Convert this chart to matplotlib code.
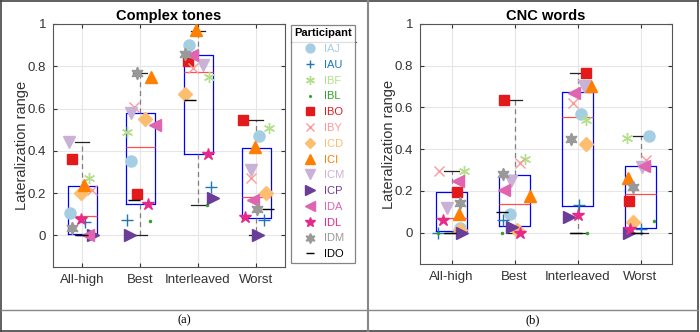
import numpy as np
import matplotlib
matplotlib.use("Agg")
import matplotlib.pyplot as plt
from matplotlib.lines import Line2D

# -------------------------------
# data
# -------------------------------
categories = ["All-high", "Best", "Interleaved", "Worst"]
participants = ["IAJ", "IAU", "IBF", "IBL", "IBO", "IBY", "ICD",
                "ICI", "ICM", "ICP", "IDA", "IDL", "IDM", "IDO"]

# lateralization range per category, one value per participant (order above)
ct_values = [
    [0.106, 0.063, 0.273, 0.0, 0.362, 0.213, 0.20, 0.24, 0.44, 0.0, 0.0, 0.078, 0.035, 0.0],
    [0.351, 0.074, 0.487, 0.068, 0.194, 0.605, 0.55, 0.75, 0.58, 0.0, 0.523, 0.15, 0.77, 0.166],
    [0.90, 0.229, 0.75, 0.144, 0.826, 0.793, 0.667, 0.97, 0.805, 0.177, 0.853, 0.384, 0.856, 0.64],
    [0.471, 0.074, 0.509, 0.0, 0.548, 0.273, 0.20, 0.419, 0.311, 0.0, 0.166, 0.085, 0.125, 0.126],
]
cnc_values = [
    [0.024, 0.0, 0.297, 0.0, 0.193, 0.296, 0.013, 0.088, 0.117, 0.0, 0.248, 0.061, 0.14, 0.0],
    [0.088, 0.061, 0.351, 0.0, 0.636, 0.335, 0.013, 0.177, 0.248, 0.029, 0.204, 0.0, 0.28, 0.10],
    [0.569, 0.133, 0.54, 0.0, 0.767, 0.623, 0.423, 0.704, 0.703, 0.077, 0.668, 0.085, 0.447, 0.0],
    [0.463, 0.02, 0.455, 0.057, 0.152, 0.348, 0.053, 0.264, 0.316, 0.0, 0.32, 0.02, 0.22, 0.0],
]

# box statistics (quartiles, median, whisker ends)
ct_q1 = [0.005, 0.15, 0.384, 0.084]
ct_med = [0.09, 0.42, 0.773, 0.182]
ct_q3 = [0.235, 0.581, 0.852, 0.411]
ct_lo = [0.0, 0.0, 0.144, 0.0]
ct_hi = [0.44, 0.77, 0.967, 0.548]

cnc_q1 = [0.008, 0.032, 0.129, 0.024]
cnc_med = [0.069, 0.137, 0.553, 0.185]
cnc_q3 = [0.193, 0.276, 0.676, 0.32]
cnc_lo = [0.0, 0.0, 0.0, 0.0]
cnc_hi = [0.297, 0.636, 0.767, 0.463]

# horizontal jitter of the points
ct_jitter = [
    [-0.20, 0.06, 0.12, 0.10, -0.17, 0.18, -0.02, 0.03, -0.23, 0.19, 0.10, -0.02, -0.17, 0.0],
    [-0.16, -0.23, -0.23, 0.18, -0.05, -0.10, 0.08, 0.19, -0.16, -0.18, 0.25, 0.14, -0.06, -0.10],
    [-0.16, 0.23, 0.19, 0.16, -0.17, -0.09, -0.23, -0.04, 0.09, 0.25, -0.10, 0.18, -0.23, -0.14],
    [0.06, 0.13, 0.23, 0.05, -0.23, -0.08, 0.18, -0.02, -0.08, 0.03, -0.06, -0.19, 0.01, 0.21],
]
cnc_jitter = [
    [0.13, -0.21, 0.20, -0.21, 0.09, -0.20, 0.13, 0.12, -0.07, 0.17, 0.11, -0.14, 0.13, -0.03],
    [-0.07, -0.18, 0.16, -0.20, -0.17, 0.09, 0.04, 0.24, -0.05, -0.04, -0.16, 0.09, -0.18, -0.20],
    [0.06, 0.02, 0.14, 0.15, 0.13, -0.07, 0.14, 0.21, 0.10, -0.13, -0.05, 0.01, -0.10, -0.03],
    [0.14, 0.0, -0.22, 0.22, -0.18, 0.08, -0.12, -0.20, 0.03, -0.18, 0.06, -0.16, -0.12, -0.05],
]

# -------------------------------
# style
# -------------------------------
colors = ["#a6cee3", "#1f78b4", "#b2df8a", "#33a02c", "#e31a1c", "#fb9a99", "#fdbf6f",
          "#ff7f00", "#cab2d6", "#6a3d9a", "#df65b0", "#e7298a", "#999999", "#000000"]
markers = ["o", "+", (6, 2, 0), ".", "s", "x", "D", "^", "v", ">", "<", "*", (6, 1, 0), "_"]
msizes = [8, 8, 8, 3, 7, 7, 7, 9, 9, 9, 9, 9, 9, 8]

plt.rcParams["font.family"] = ["Liberation Sans", "DejaVu Sans"]

W, H = 700, 332
fig = plt.figure(figsize=(7.0, 3.32), dpi=100)


def frac(x0, y0, x1, y1):
    # pixel box (top-left origin) -> figure fraction rect
    return [x0 / W, 1 - y1 / H, (x1 - x0) / W, (y1 - y0) / H]


ax1 = fig.add_axes(frac(53, 24, 285, 267))
ax2 = fig.add_axes(frac(420, 24, 672, 264))


def draw(ax, values, jitter, q1, med, q3, lo, hi, title):
    stats = []
    for i in range(len(categories)):
        stats.append(dict(q1=q1[i], med=med[i], q3=q3[i], whislo=lo[i], whishi=hi[i]))
    ax.bxp(stats, positions=range(1, 5), widths=0.5, capwidths=0.25, showfliers=False,
           boxprops=dict(color="#0000ff", lw=0.9),
           medianprops=dict(color="#ff5050", lw=0.9),
           whiskerprops=dict(color="#808080", lw=0.9, ls=(0, (4, 3))),
           capprops=dict(color="#222222", lw=0.9), zorder=2)

    for p in range(len(participants)):
        xs = [c + 1 + jitter[c][p] for c in range(len(categories))]
        ys = [values[c][p] for c in range(len(categories))]
        ax.plot(xs, ys, ls="none", marker=markers[p], ms=msizes[p],
                color=colors[p], mec=colors[p], mew=1.0, label=participants[p], zorder=3)

    ax.set_xlim(0.5, 4.5)
    ax.set_ylim(-0.15, 1)
    ax.set_xticks(range(1, 5))
    ax.set_xticklabels(categories)
    ax.set_yticks([0, 0.2, 0.4, 0.6, 0.8, 1])
    ax.set_yticklabels(["0", "0.2", "0.4", "0.6", "0.8", "1"])
    ax.grid(True, color="#e6e6e6", lw=0.8, zorder=0)
    ax.set_axisbelow(True)
    ax.tick_params(direction="in", length=3, labelsize=9.5, colors="#333333",
                   top=True, right=True, pad=5)
    for s in ax.spines.values():
        s.set_color("#555555")
        s.set_linewidth(0.8)
    ax.set_ylabel("Lateralization range", fontsize=10.5, color="#333333", labelpad=-1)
    ax.set_title(title, fontsize=10.5, fontweight="bold", pad=3)


draw(ax1, ct_values, ct_jitter, ct_q1, ct_med, ct_q3, ct_lo, ct_hi, "Complex tones")
draw(ax2, cnc_values, cnc_jitter, cnc_q1, cnc_med, cnc_q3, cnc_lo, cnc_hi, "CNC words")

# -------------------------------
# legend
# -------------------------------
handles, labels = ax1.get_legend_handles_labels()
leg = fig.legend(handles, labels, loc="upper left", bbox_to_anchor=(291 / W, 1 - 25 / H),
                 title="Participant", title_fontproperties=dict(weight="bold", size=8),
                 fontsize=8, frameon=True, fancybox=False, edgecolor="#666666",
                 labelspacing=0.52, handlelength=1.3, handletextpad=0.6,
                 borderpad=0.3, borderaxespad=0, markerscale=0.8)
leg.get_frame().set_linewidth(0.9)
for t, c in zip(leg.get_texts(), colors):
    t.set_color(c)
fig.add_artist(Line2D([291 / W, 356 / W], [1 - 42 / H, 1 - 42 / H],
                      color="#666666", lw=0.9))

# -------------------------------
# table lines and captions
# -------------------------------
def hline(y, x0=1, x1=698, color="#444444", lw=1.2):
    fig.add_artist(Line2D([x0 / W, x1 / W], [1 - y / H, 1 - y / H], color=color, lw=lw))


def vline(x, y0=0, y1=H, color="#444444", lw=1.2):
    fig.add_artist(Line2D([x / W, x / W], [1 - y0 / H, 1 - y1 / H], color=color, lw=lw))


hline(0.8)
hline(331)
vline(0.8)
vline(698)
hline(309.5, color="#888888", lw=1.0)
vline(368, color="#888888", lw=1.5)

fig.text(184 / W, 1 - 320 / H, "(a)", ha="center", va="center",
         fontsize=9, family="Liberation Serif")
fig.text(533 / W, 1 - 320 / H, "(b)", ha="center", va="center",
         fontsize=9, family="Liberation Serif")

fig.savefig("out.png", dpi=100)
